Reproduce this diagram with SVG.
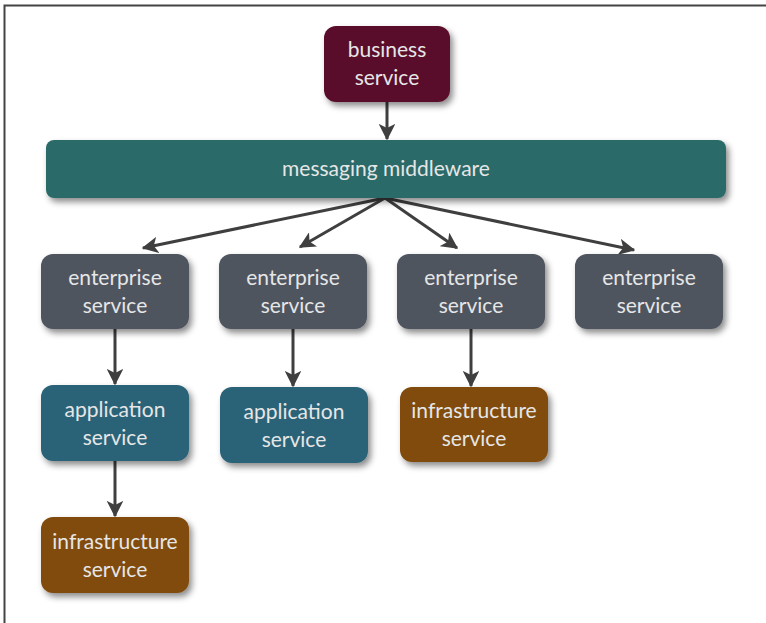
<svg xmlns="http://www.w3.org/2000/svg" width="766" height="623" viewBox="0 0 766 623">
<defs>
<filter id="sh" x="-20%" y="-20%" width="140%" height="150%">
<feDropShadow dx="3" dy="4" stdDeviation="3" flood-color="#000" flood-opacity="0.45"/>
</filter>
<marker id="ah" viewBox="0 0 12 12" refX="11" refY="6" markerWidth="5.5" markerHeight="5.5" markerUnits="strokeWidth" orient="auto">
<path d="M0,0 L12,6 L0,12 L3,6 z" fill="#3f3f3f"/>
</marker>
<style>
.n{filter:url(#sh)}
.t{font-family:Lato,"Open Sans","Liberation Sans",sans-serif;font-size:21px;fill:#e6e6e6;text-anchor:middle}
.c{stroke:#3f3f3f;stroke-width:3;fill:none;marker-end:url(#ah)}
</style>
</defs>
<rect width="766" height="623" fill="#fff"/>
<path d="M4.5,623 V5.5 H766" fill="none" stroke="#444" stroke-width="2"/>
<g id="connectors">
<line class="c" x1="387" y1="102" x2="387" y2="139"/>
<line class="c" x1="385" y1="198" x2="143" y2="248"/>
<line class="c" x1="385" y1="198" x2="300" y2="247"/>
<line class="c" x1="385" y1="198" x2="457" y2="248"/>
<line class="c" x1="385" y1="198" x2="634" y2="250"/>
<line class="c" x1="115" y1="329" x2="115" y2="384"/>
<line class="c" x1="293" y1="329" x2="293" y2="386"/>
<line class="c" x1="471" y1="329" x2="471" y2="386"/>
<line class="c" x1="115" y1="461" x2="115" y2="516"/>
</g>
<g id="business">
<rect class="n" x="324" y="26" width="126" height="76" rx="12" fill="#5a1029"/>
<text class="t" x="387" y="57">business</text>
<text class="t" x="387" y="85">service</text>
</g>
<g id="middleware">
<rect class="n" x="46" y="140" width="680" height="58" rx="8" fill="#2a6b68"/>
<text class="t" x="386" y="176">messaging middleware</text>
</g>
<g id="enterprise1">
<rect class="n" x="41" y="254" width="148" height="75" rx="12" fill="#50545e"/>
<text class="t" x="115" y="285">enterprise</text>
<text class="t" x="115" y="313">service</text>
</g>
<g id="enterprise2">
<rect class="n" x="219" y="254" width="148" height="75" rx="12" fill="#50545e"/>
<text class="t" x="293" y="285">enterprise</text>
<text class="t" x="293" y="313">service</text>
</g>
<g id="enterprise3">
<rect class="n" x="397" y="254" width="148" height="75" rx="12" fill="#50545e"/>
<text class="t" x="471" y="285">enterprise</text>
<text class="t" x="471" y="313">service</text>
</g>
<g id="enterprise4">
<rect class="n" x="575" y="254" width="148" height="75" rx="12" fill="#50545e"/>
<text class="t" x="649" y="285">enterprise</text>
<text class="t" x="649" y="313">service</text>
</g>
<g id="application1">
<rect class="n" x="41" y="385" width="148" height="76" rx="12" fill="#2b6378"/>
<text class="t" x="115" y="417">application</text>
<text class="t" x="115" y="445">service</text>
</g>
<g id="application2">
<rect class="n" x="220" y="387" width="148" height="76" rx="12" fill="#2b6378"/>
<text class="t" x="294" y="419">application</text>
<text class="t" x="294" y="447">service</text>
</g>
<g id="infrastructure2">
<rect class="n" x="400" y="387" width="148" height="75" rx="12" fill="#804b0b"/>
<text class="t" x="474" y="418">infrastructure</text>
<text class="t" x="474" y="446">service</text>
</g>
<g id="infrastructure1">
<rect class="n" x="41" y="517" width="148" height="76" rx="12" fill="#804b0b"/>
<text class="t" x="115" y="549">infrastructure</text>
<text class="t" x="115" y="577">service</text>
</g>
</svg>
